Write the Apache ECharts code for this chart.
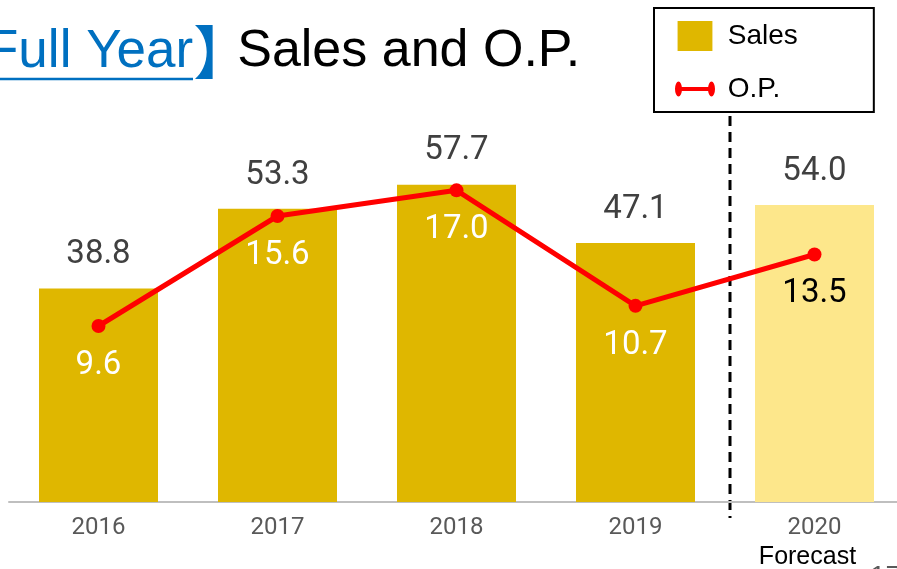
<!DOCTYPE html>
<html>
<head>
<meta charset="utf-8">
<script src="https://cdn.jsdelivr.net/npm/echarts@6/dist/echarts.min.js"></script>
<style>
  html, body { margin: 0; padding: 0; background: #fff; }
  #main { width: 897px; height: 569px; }
</style>
</head>
<body>
<div id="main"></div>
<script>
var years = ['2016', '2017', '2018', '2019', '2020'];
var sales = [38.8, 53.3, 57.7, 47.1, 54.0];
var op = [9.6, 15.6, 17.0, 10.7, 13.5];
var forecastIndex = 4;

var gold = '#DFB700';
var lightGold = '#FDE78B';
var red = '#FF0000';

var chart = echarts.init(document.getElementById('main'));

var option = {
    animation: false,
    title: {
        text: '{a|Full Year}{k|】}{c|Sales and O.P.}',
        left: -14,
        top: 23,
        padding: 0,
        textStyle: {
            fontWeight: 'normal',
            rich: {
                a: { color: '#0070C0', fontSize: 53, fontWeight: 'normal', fontFamily: 'Liberation Sans' },
                k: { color: '#0070C0', fontSize: 58, width: 44, fontWeight: 'normal', fontFamily: 'Noto Sans CJK JP' },
                c: { color: '#000', fontSize: 52, fontWeight: 'normal', fontFamily: 'Liberation Sans' }
            }
        }
    },
    legend: {
        orient: 'vertical',
        left: 654,
        top: 8,
        padding: [13, 76, 9, 21],
        itemWidth: 40,
        itemHeight: 30,
        itemGap: 24,
        borderColor: '#000',
        borderWidth: 2,
        formatter: ' {name}',
        textStyle: { fontSize: 28, color: '#000', fontFamily: 'Liberation Sans' },
        data: [
            { name: 'Sales', icon: 'path://M0,0H36V31H0Z', itemStyle: { color: gold } },
            { name: 'O.P.', icon: 'path://M0,7.5A3.5,7.5,0,1,1,7,7.5A3.5,7.5,0,1,1,0,7.5ZM3.5,5.5H36.5V9.5H3.5ZM33,7.5A3.5,7.5,0,1,1,40,7.5A3.5,7.5,0,1,1,33,7.5Z', itemStyle: { color: red } }
        ]
    },
    grid: { left: 9, top: 62, width: 895, height: 440, outerBoundsMode: 'none' },
    xAxis: {
        type: 'category',
        data: years,
        axisLine: { lineStyle: { color: '#BFBFBF', width: 2 } },
        axisTick: { show: false },
        axisLabel: {
            color: '#595959',
            fontSize: 24,
            lineHeight: 28,
            margin: 12,
            fontFamily: 'Roboto',
            formatter: function (v, i) {
                return i === forecastIndex ? v + '\n{f|Forecast}' : v;
            },
            rich: {
                f: { color: '#000', fontSize: 25, lineHeight: 30, padding: [0, 14, 0, 0], fontFamily: 'Liberation Sans' }
            }
        }
    },
    yAxis: [
        { type: 'value', min: 0, max: 80, show: false, splitLine: { show: false } },
        { type: 'value', min: 0, max: 24, show: false, splitLine: { show: false } }
    ],
    series: [
        {
            name: 'Sales',
            type: 'bar',
            barWidth: 119,
            data: sales.map(function (v, i) {
                return { value: v, itemStyle: { color: i === forecastIndex ? lightGold : gold } };
            }),
            itemStyle: { color: gold },
            label: {
                show: true,
                position: 'top',
                distance: 17,
                color: '#404040',
                fontSize: 33,
                fontFamily: 'Roboto',
                formatter: function (p) { return p.value.toFixed(1); }
            }
        },
        {
            name: 'O.P.',
            type: 'line',
            yAxisIndex: 1,
            data: op.map(function (v, i) {
                return i === forecastIndex ? { value: v, label: { color: '#000' } } : v;
            }),
            color: red,
            lineStyle: { color: red, width: 5 },
            symbol: 'circle',
            symbolSize: 14,
            z: 5,
            label: {
                show: true,
                position: 'bottom',
                distance: 16,
                color: '#fff',
                fontSize: 33,
                fontFamily: 'Roboto',
                formatter: function (p) { return p.value.toFixed(1); }
            }
        }
    ]
};

chart.setOption(option);

// dashed divider between actual and forecast, plus the title underline
var x3 = chart.convertToPixel({ xAxisIndex: 0 }, years[3]);
var x4 = chart.convertToPixel({ xAxisIndex: 0 }, years[4]);
var divX = (x3 + x4) / 2 + 5;
chart.setOption({
    graphic: [
        {
            type: 'line',
            shape: { x1: divX, y1: 116, x2: divX, y2: 518 },
            style: { stroke: '#000', lineWidth: 3, lineDash: [10, 6] }
        },
        {
            type: 'line',
            shape: { x1: 0, y1: 79, x2: 193, y2: 79 },
            style: { stroke: '#0070C0', lineWidth: 2.5 }
        },
        {
            type: 'text',
            left: 870,
            top: 563,
            style: { text: '17', fontSize: 28, fill: '#595959', fontFamily: 'Liberation Sans' }
        }
    ]
});
</script>
</body>
</html>
